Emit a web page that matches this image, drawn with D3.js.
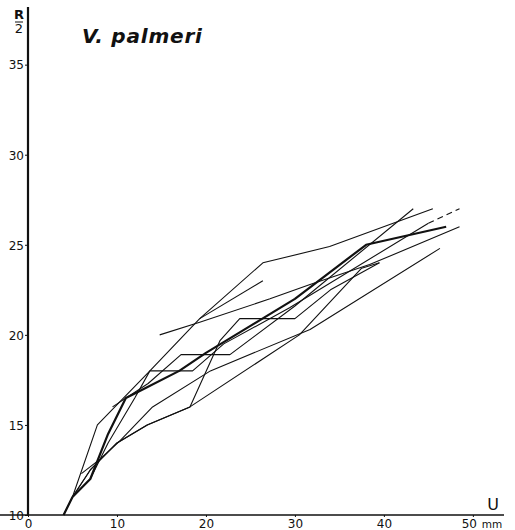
<!DOCTYPE html>
<html>
<head>
<meta charset="utf-8">
<script src="https://cdn.jsdelivr.net/npm/d3@7"></script>
<style>
  body { margin: 0; background: #fff; }
  svg { display: block; }
  text { font-family: "DejaVu Sans", sans-serif; fill: #111; }
</style>
</head>
<body>
<svg id="chart"></svg>
<script>
// growth curves, U (mm) against R/2
const yTicks = [10, 15, 20, 25, 30, 35];
const xTicks = [0, 10, 20, 30, 40, 50];

const curveBold = [[4,10],[5,11],[7,12],[9,14.5],[11,16.5],[13,17],[17,18],[20,19],[25,20.5],[30,22],[38,25],[47,26]];
const curveB = [[4,10],[5,11],[7.8,15],[13.7,18],[19.3,20.9],[26.4,24],[33.9,24.9],[45.5,27]];
const curveC = [[5,11],[7,12.5],[10,14],[13.4,15],[18.2,16],[30.5,20],[37.5,23.7],[39.5,24]];
const curveD = [[5,11],[7,12.5],[10,14],[13.4,15],[18.2,16],[21.6,19.7],[23.8,20.9],[30,20.9],[34,22.5],[39.5,24]];
const curveE = [[14.8,20],[19.3,20.7],[27.2,22],[31.7,22.8],[38.4,23.9],[48.5,26]];
const curveF = [[5,11],[7,12],[9,14],[12,16.5],[13.7,18],[18.5,18],[22,19.5],[29.4,21.5],[45,26.2]];
const curveFend = [[45,26.2],[48.5,27]];   // dashed tail
const curveG = [[9.5,16],[13.5,17.3],[17.2,18.9],[22.7,18.9],[30,21.6],[43.3,27]];
const curveH = [[6,12.3],[8.1,13.1],[10.3,14.1],[14,16],[20.5,18],[31.7,20.3],[46.3,24.8]];
const curveI = [[19.3,20.9],[26.4,23]];

const thinCurves = [curveB, curveC, curveD, curveE, curveF, curveG, curveH, curveI];

const width = 515, height = 530;

const svg = d3.select("#chart")
    .attr("width", width)
    .attr("height", height);

const xScale = d3.scaleLinear().domain([0, 53.5]).range([28, 504]);
const yScale = d3.scaleLinear().domain([10, 38.2]).range([515, 7]);

const line = d3.line()
    .x(d => xScale(d[0]))
    .y(d => yScale(d[1]));

// y axis
const yAxis = svg.append("g")
    .attr("transform", `translate(${xScale(0)},0)`)
    .call(d3.axisLeft(yScale).tickValues(yTicks).tickSize(3).tickPadding(1));
yAxis.select(".domain").remove();
yAxis.selectAll("line").attr("stroke", "#111");
yAxis.selectAll("text")
    .style("font-size", "12px")
    .attr("dy", "0.36em");

svg.append("line")
    .attr("x1", xScale(0)).attr("x2", xScale(0))
    .attr("y1", yScale(38.2)).attr("y2", yScale(10))
    .attr("stroke", "#111")
    .attr("stroke-width", 2.2);

// x axis
const xAxis = svg.append("g")
    .attr("transform", `translate(0,${yScale(10)})`)
    .call(d3.axisBottom(xScale).tickValues(xTicks).tickSize(2).tickPadding(0)
        .tickFormat(d => d));
xAxis.select(".domain").remove();
xAxis.selectAll("line").attr("stroke", "#111");
xAxis.selectAll("text")
    .style("font-size", "12px")
    .attr("dy", "0.88em")
    .attr("dx", d => d === 50 ? "-4px" : 0);

svg.append("line")
    .attr("x1", 0).attr("x2", xScale(53.5))
    .attr("y1", yScale(10)).attr("y2", yScale(10))
    .attr("stroke", "#111")
    .attr("stroke-width", 1.6);

svg.append("text")
    .attr("x", xScale(50) + 9)
    .attr("y", 527.5)
    .style("font-size", "10.5px")
    .text("mm");

svg.append("text")
    .attr("x", 493)
    .attr("y", 510)
    .attr("text-anchor", "middle")
    .style("font-size", "16px")
    .text("U");

// R/2 label
svg.append("text")
    .attr("x", 19)
    .attr("y", 19)
    .attr("text-anchor", "middle")
    .style("font-size", "13px")
    .style("font-weight", "bold")
    .text("R");
svg.append("line")
    .attr("x1", 15).attr("x2", 23)
    .attr("y1", 22).attr("y2", 22)
    .attr("stroke", "#111")
    .attr("stroke-width", 1);
svg.append("text")
    .attr("x", 19)
    .attr("y", 33)
    .attr("text-anchor", "middle")
    .style("font-size", "13px")
    .text("2");

// title
svg.append("text")
    .attr("x", 82)
    .attr("y", 43)
    .style("font-size", "20px")
    .style("font-weight", "bold")
    .style("font-style", "italic")
    .style("letter-spacing", "0.8px")
    .text("V. palmeri");

// curves
svg.selectAll("path.thin")
    .data(thinCurves)
    .enter().append("path")
    .attr("class", "thin")
    .attr("d", line)
    .attr("fill", "none")
    .attr("stroke", "#111")
    .attr("stroke-width", 1.1)
    .attr("stroke-linejoin", "round");

svg.append("path")
    .datum(curveFend)
    .attr("d", line)
    .attr("fill", "none")
    .attr("stroke", "#111")
    .attr("stroke-width", 1.1)
    .attr("stroke-dasharray", "6,4");

svg.append("path")
    .datum(curveBold)
    .attr("d", line)
    .attr("fill", "none")
    .attr("stroke", "#111")
    .attr("stroke-width", 2.2)
    .attr("stroke-linejoin", "round");
</script>
</body>
</html>
